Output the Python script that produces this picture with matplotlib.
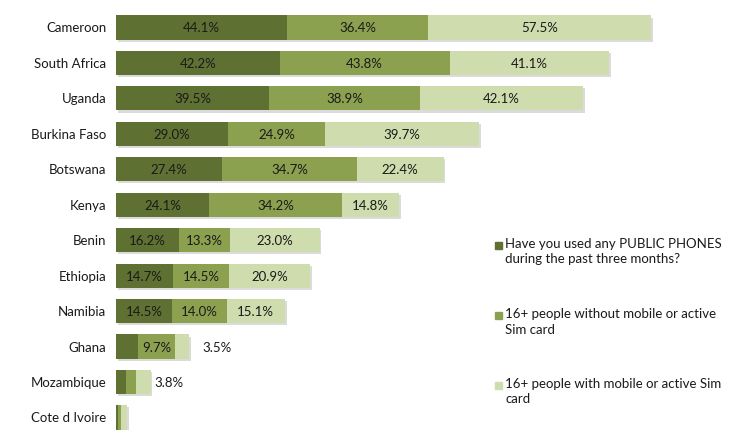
import matplotlib.pyplot as plt
from matplotlib.patches import Rectangle
from matplotlib import patheffects as pe

countries = ['Cameroon', 'South Africa', 'Uganda', 'Burkina Faso', 'Botswana', 'Kenya',
             'Benin', 'Ethiopia', 'Namibia', 'Ghana', 'Mozambique', 'Cote d Ivoire']
public_phones = [44.1, 42.2, 39.5, 29.0, 27.4, 24.1, 16.2, 14.7, 14.5, 5.6, 2.5, 0.5]
without_mobile = [36.4, 43.8, 38.9, 24.9, 34.7, 34.2, 13.3, 14.5, 14.0, 9.7, 2.6, 0.8]
with_mobile = [57.5, 41.1, 42.1, 39.7, 22.4, 14.8, 23.0, 20.9, 15.1, 3.5, 3.8, 1.6]

series = [public_phones, without_mobile, with_mobile]
names = ['Have you used any PUBLIC PHONES\nduring the past three months?',
         '16+ people without mobile or active\nSim card',
         '16+ people with mobile or active Sim\ncard']
colors = ['#5e7132', '#8ca14f', '#cfdcae']

plt.rcParams['font.family'] = ['Lato', 'DejaVu Sans']
fig = plt.figure(figsize=(7.31, 4.31), dpi=100)
W, H = 731, 431
ax = fig.add_axes([116 / W, 0, 600 / W, 1])

px_per_unit = 3.878
ax.set_xlim(0, 600 / px_per_unit)
step = 35.45
ax.set_ylim((H - 28.5) / step, -28.5 / step)

shadow = [pe.withSimplePatchShadow(offset=(1.2, -1.5), shadow_rgbFace='#999999', alpha=0.35)]
ys = range(len(countries))
left = [0.0] * len(countries)
for k, vals in enumerate(series):
    ax.barh(ys, vals, left=left, height=0.68, color=colors[k], edgecolor='none',
            path_effects=shadow, zorder=2)
    for i, v in enumerate(vals):
        cx = left[i] + v / 2
        if v >= 9:
            ax.text(cx, i, f'{v:.1f}%', ha='center', va='center', fontsize=9.5,
                    color='#1a1a1a', zorder=3)
        elif k == 2 and v >= 3:
            # short bars get the label outside
            ax.text(left[i] + v + (3.5 if i == 9 else 1.0), i, f'{v:.1f}%', ha='left',
                    va='center', fontsize=9.5, color='#1a1a1a', zorder=3)
    left = [a + b for a, b in zip(left, vals)]

for i, c in enumerate(countries):
    ax.text(-2.5, i, c, ha='right', va='center', fontsize=9.5, color='#1a1a1a')

ax.axis('off')

# legend drawn by hand so the square sits on the first line
legend_tops = [238, 308, 378]
for k, top in enumerate(legend_tops):
    fig.add_artist(Rectangle((495 / W, 1 - (top + 12) / H), 7 / W, 7 / H,
                             transform=fig.transFigure, color=colors[k]))
    fig.text(505 / W, 1 - top / H, names[k], ha='left', va='top', fontsize=9.5,
             color='#1a1a1a', linespacing=1.35)

fig.savefig('out.png', dpi=100)
